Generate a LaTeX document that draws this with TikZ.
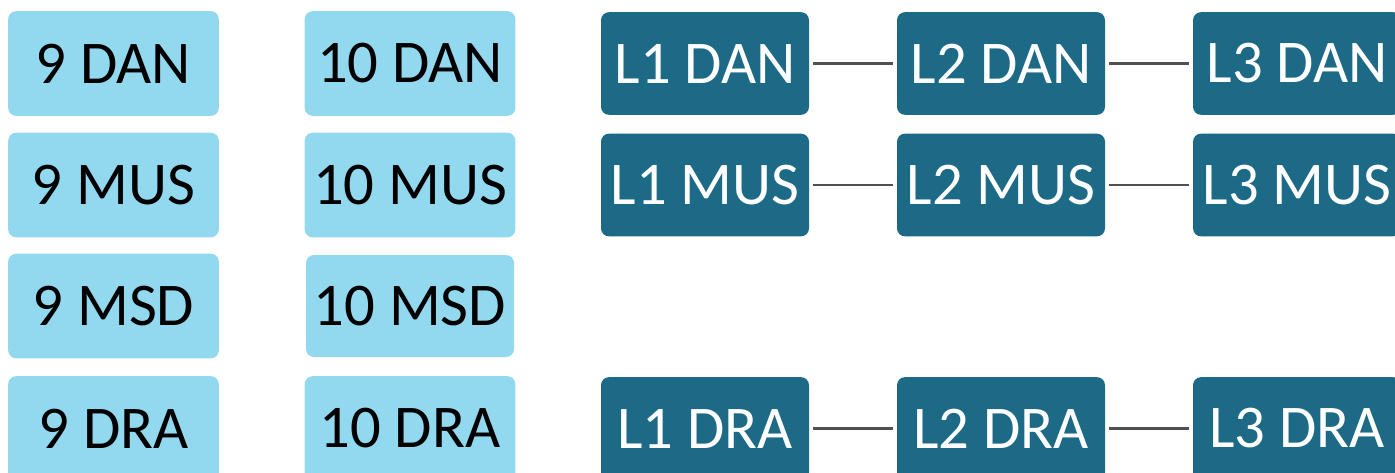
\documentclass[tikz,border=0pt]{standalone}
\usepackage{fontspec}
\setmainfont{Carlito}
\definecolor{lightbox}{HTML}{92D8EF}
\definecolor{darkbox}{HTML}{1D6A87}
\definecolor{linkgray}{HTML}{505050}
\begin{document}
\begin{tikzpicture}[x=0.75pt,y=-0.75pt,
  lbox/.style={fill=lightbox,rounded corners=6pt,minimum width=158pt,minimum height=78.5pt,inner sep=0pt,font=\fontsize{45.5}{50}\selectfont,text=black},
  dbox/.style={fill=darkbox,rounded corners=6pt,minimum width=156pt,minimum height=77pt,inner sep=0pt,font=\fontsize{45.5}{50}\selectfont,text=white},
  link/.style={draw=linkgray,line width=1.9pt,shorten <=2.5pt,shorten >=2.5pt}]
\useasboundingbox (0,0) rectangle (1395,472);
\clip (0,0) rectangle (1395,472);
% light column 1
\node[lbox] (a1) at (113.5,63.5) {9 DAN};
\node[lbox] (a2) at (113.5,185) {9 MUS};
\node[lbox] (a3) at (113.5,306) {9 MSD};
\node[lbox] (a4) at (113.5,428.5) {9 DRA};
% light column 2
\node[lbox] (b1) at (410,63.5) {10 DAN};
\node[lbox] (b2) at (410,185) {10 MUS};
\node[lbox,minimum width=156pt,minimum height=76.5pt] (b3) at (410,306) {10 MSD};
\node[lbox] (b4) at (410,428.5) {10 DRA};
% dark boxes
\node[dbox] (c1) at (705,63.5) {L1 DAN};
\node[dbox] (d1) at (1001,63.5) {L2 DAN};
\node[dbox] (e1) at (1297,63.5) {L3 DAN};
\node[dbox] (c2) at (705,185) {L1 MUS};
\node[dbox] (d2) at (1001,185) {L2 MUS};
\node[dbox] (e2) at (1297,185) {L3 MUS};
\node[dbox] (c4) at (705,428.5) {L1 DRA};
\node[dbox] (d4) at (1001,428.5) {L2 DRA};
\node[dbox] (e4) at (1297,428.5) {L3 DRA};
% connectors
\draw[link] (c1) -- (d1);
\draw[link] (d1) -- (e1);
\draw[link] (c2) -- (d2);
\draw[link] (d2) -- (e2);
\draw[link] (c4) -- (d4);
\draw[link] (d4) -- (e4);
\end{tikzpicture}
\end{document}
